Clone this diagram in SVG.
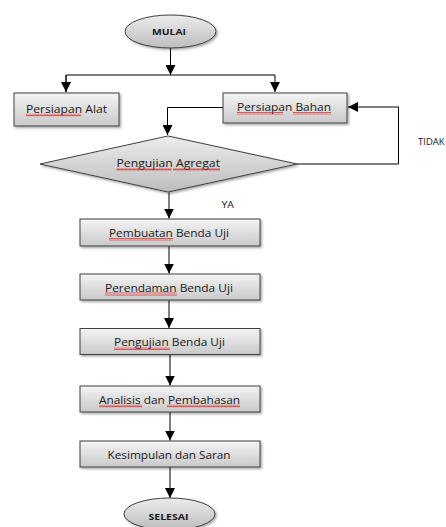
<svg xmlns="http://www.w3.org/2000/svg" width="446" height="527" viewBox="0 0 446 527">
<defs>
<linearGradient id="gBox" x1="0" y1="0" x2="0" y2="1">
<stop offset="0" stop-color="#f4f4f4"/><stop offset="1" stop-color="#c9c9c9"/>
</linearGradient>
<linearGradient id="gDia" x1="0" y1="0" x2="0" y2="1">
<stop offset="0" stop-color="#ececec"/><stop offset="1" stop-color="#bdbdbd"/>
</linearGradient>
<filter id="sh" x="-10%" y="-20%" width="125%" height="150%">
<feDropShadow dx="1.5" dy="1.5" stdDeviation="1" flood-color="#000" flood-opacity="0.35"/>
</filter>
<marker id="arr" viewBox="0 0 10 10" refX="10" refY="5" markerWidth="10" markerHeight="10" markerUnits="userSpaceOnUse" orient="auto">
<path d="M0,0 L10,5 L0,10 z" fill="#000"/>
</marker>
<pattern id="wavy" width="4" height="3" patternUnits="userSpaceOnUse">
<path d="M0,2.5 L1,0.5 L2,2.5 L3,0.5 L4,2.5" fill="none" stroke="#e02020" stroke-width="0.7"/>
</pattern>
</defs>
<style>
.box{fill:url(#gBox);stroke:#404040;stroke-width:1;filter:url(#sh)}
.dia{fill:url(#gDia);stroke:#404040;stroke-width:1;filter:url(#sh)}
.t{font-family:"Open Sans","Liberation Sans",sans-serif;font-size:11.5px;fill:#1a1a1a}
.b{font-family:"Open Sans","Liberation Sans",sans-serif;font-size:9.5px;font-weight:bold;fill:#1a1a1a}
.l{font-family:"Open Sans","Liberation Sans",sans-serif;font-size:9.5px;fill:#1a1a1a}
.c{fill:none;stroke:#000;stroke-width:1}
.w{fill:url(#wavy)}
</style>
<g id="connectors">
<path class="c" d="M170.5,48 V75" marker-end="url(#arr)"/>
<path class="c" d="M66,92 V75 H275 V92" marker-end="url(#arr)"/>
<path class="c" d="M66,75 V92" marker-end="url(#arr)"/>
<path class="c" d="M223,107.5 H167.5 V135" marker-end="url(#arr)"/>
<path class="c" d="M297,164 H398.5 V107 H348" marker-end="url(#arr)"/>
<path class="c" d="M169,192.5 V218.5" marker-end="url(#arr)"/>
<path class="c" d="M169,246 V273.5" marker-end="url(#arr)"/>
<path class="c" d="M169,300.5 V328" marker-end="url(#arr)"/>
<path class="c" d="M170,354.5 V385.5" marker-end="url(#arr)"/>
<path class="c" d="M170,412 V440.5" marker-end="url(#arr)"/>
<path class="c" d="M170,467 V498" marker-end="url(#arr)"/>
</g>
<g id="mulai">
<ellipse class="dia" cx="170.5" cy="31.5" rx="45.5" ry="16.5"/>
<text class="b" x="152" y="35" textLength="34" lengthAdjust="spacingAndGlyphs">MULAI</text>
</g>
<g id="persiapan-alat">
<rect class="box" x="14" y="93" width="105" height="33"/>
<text class="t" x="26" y="112.5" textLength="81" lengthAdjust="spacingAndGlyphs">Persiapan Alat</text>
<rect class="w" x="26" y="113.5" width="55" height="3"/>
</g>
<g id="persiapan-bahan">
<rect class="box" x="223" y="93" width="124" height="30"/>
<text class="t" x="237" y="111" textLength="94" lengthAdjust="spacingAndGlyphs">Persiapan Bahan</text>
<rect class="w" x="237" y="112" width="46" height="3"/>
<rect class="w" x="293" y="112" width="38" height="3"/>
</g>
<g id="pengujian-agregat">
<polygon class="dia" points="168,136 297,164 168,192 40,164"/>
<text class="t" x="116.5" y="167" textLength="103.5" lengthAdjust="spacingAndGlyphs">Pengujian Agregat</text>
<rect class="w" x="116.5" y="168" width="55" height="3"/>
<rect class="w" x="173" y="168" width="47" height="3"/>
</g>
<g id="labels">
<text class="l" x="418" y="145">TIDAK</text>
<text class="l" x="221.5" y="207.5" textLength="12.5" lengthAdjust="spacingAndGlyphs">YA</text>
</g>
<g id="pembuatan">
<rect class="box" x="80" y="219" width="180" height="27"/>
<text class="t" x="109" y="237" textLength="120" lengthAdjust="spacingAndGlyphs">Pembuatan Benda Uji</text>
<rect class="w" x="109" y="238" width="64" height="3"/>
</g>
<g id="perendaman">
<rect class="box" x="80" y="274" width="180" height="26"/>
<text class="t" x="105" y="291.5" textLength="128" lengthAdjust="spacingAndGlyphs">Perendaman Benda Uji</text>
<rect class="w" x="105" y="292.5" width="72" height="3"/>
</g>
<g id="pengujian-benda">
<rect class="box" x="80" y="328.5" width="180" height="26"/>
<text class="t" x="114" y="346" textLength="111" lengthAdjust="spacingAndGlyphs">Pengujian Benda Uji</text>
<rect class="w" x="114" y="347" width="56" height="3"/>
</g>
<g id="analisis">
<rect class="box" x="80" y="386" width="180" height="26"/>
<text class="t" x="99" y="403.5" textLength="141" lengthAdjust="spacingAndGlyphs">Analisis dan Pembahasan</text>
<rect class="w" x="99" y="404.5" width="43" height="3"/>
<rect class="w" x="167" y="404.5" width="73" height="3"/>
</g>
<g id="kesimpulan">
<rect class="box" x="80" y="441" width="180" height="26"/>
<text class="t" x="107.5" y="458.5" textLength="123" lengthAdjust="spacingAndGlyphs">Kesimpulan dan Saran</text>
</g>
<g id="selesai">
<ellipse class="dia" cx="169.5" cy="514" rx="45.5" ry="16"/>
<text class="b" x="148.5" y="520" textLength="40" lengthAdjust="spacingAndGlyphs">SELESAI</text>
</g>
</svg>
